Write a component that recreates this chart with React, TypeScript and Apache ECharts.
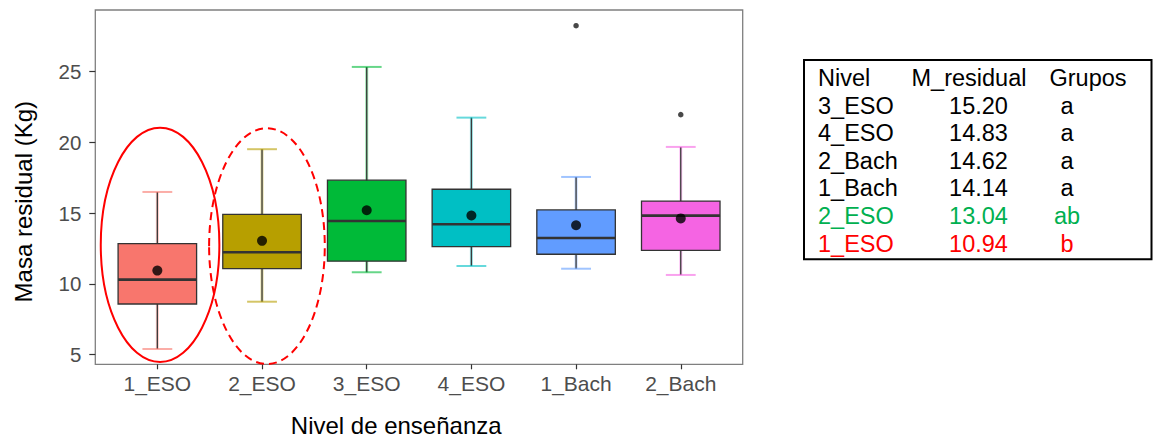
import React, { useEffect, useRef } from "react";
import * as echarts from "echarts";

// Boxplot summary per educational level
const levels = ["1_ESO", "2_ESO", "3_ESO", "4_ESO", "1_Bach", "2_Bach"];
const whiskerLow = [5.4, 8.74, 10.82, 11.26, 11.07, 10.63];
const quartile1 = [8.58, 11.07, 11.6, 12.63, 12.09, 12.37];
const medians = [10.3, 12.23, 14.44, 14.21, 13.24, 14.82];
const quartile3 = [12.84, 14.91, 17.32, 16.68, 15.22, 15.85];
const whiskerHigh = [16.49, 19.51, 25.32, 21.74, 17.55, 19.67];
const means = [10.94, 13.04, 15.2, 14.83, 14.14, 14.62];
const outlierLevels = ["1_Bach", "2_Bach"];
const outlierValues = [28.23, 21.95];
const levelColors = ["#F8766D", "#B79F00", "#00BA38", "#00BFC4", "#619CFF", "#F564E3"];
const yTicks = [5, 10, 15, 20, 25];

// Highlighted levels (value span of each ring)
const highlightLevels = ["1_ESO", "2_ESO"];
const highlightTop = [21.03, 20.99];
const highlightBottom = [4.48, 4.34];

// Summary table (ordered by mean)
const tableHeader = ["Nivel", "M_residual", "Grupos"];
const tableLevels = ["3_ESO", "4_ESO", "2_Bach", "1_Bach", "2_ESO", "1_ESO"];
const tableGroups = ["a", "a", "a", "a", "ab", "b"];
const tableColors = ["#000000", "#000000", "#000000", "#000000", "#00B050", "#FF0000"];

const FONT = "'Liberation Sans', Arial, Helvetica, sans-serif";

export default function App() {
  const ref = useRef<HTMLDivElement>(null);

  useEffect(() => {
    if (!ref.current) return;
    const chart = echarts.init(ref.current, undefined, { renderer: "svg" });

    const boxData = levels.map((_, i) => [
      i,
      whiskerLow[i],
      quartile1[i],
      medians[i],
      quartile3[i],
      whiskerHigh[i],
    ]);
    const meanData = levels.map((_, i) => [i, means[i]]);
    const outlierData = outlierLevels.map((l, i) => [levels.indexOf(l), outlierValues[i]]);
    const ringData = highlightLevels.map((l, i) => [
      levels.indexOf(l),
      highlightTop[i],
      highlightBottom[i],
    ]);
    const ringWidth = [1.133, 1.105];
    const ringShift = [0.026, 0.047];

    // table graphics
    const colX = [818, 978.5, 1067];
    const rowY0 = 78;
    const rowStep = 27.6;
    const tableFont = `23.5px ${FONT}`;
    const tableText: any[] = [];
    tableHeader.forEach((h, c) => {
      tableText.push({
        type: "text",
        x: c === 0 ? 818 : c === 1 ? 911.5 : 1049.5,
        y: rowY0,
        style: {
          text: h,
          font: tableFont,
          fill: "#000",
          align: "left",
          verticalAlign: "middle",
        },
      });
    });
    tableLevels.forEach((l, r) => {
      const y = rowY0 + (r + 1) * rowStep;
      const col = tableColors[r];
      const meanStr = means[levels.indexOf(l)].toFixed(2);
      [l, meanStr, tableGroups[r]].forEach((t, c) => {
        tableText.push({
          type: "text",
          x: colX[c],
          y,
          style: {
            text: t,
            font: tableFont,
            fill: col,
            align: c === 0 ? "left" : "center",
            verticalAlign: "middle",
          },
        });
      });
    });

    const option: any = {
      animation: false,
      backgroundColor: "#ffffff",
      textStyle: { fontFamily: FONT },
      grid: { left: 105, top: 10, width: 628.1, height: 354.3, containLabel: false },
      xAxis: {
        type: "category",
        data: levels,
        axisLine: { show: false },
        axisTick: { show: true, alignWithLabel: true, length: 5, lineStyle: { color: "#333333", width: 1.2 } },
        axisLabel: { fontSize: 21, color: "#4D4D4D", margin: 9, fontFamily: FONT },
        splitLine: { show: false },
      },
      yAxis: {
        type: "value",
        min: 4.32,
        max: 29.34,
        offset: 9.7,
        axisLine: { show: false },
        axisTick: { show: true, length: 6, customValues: yTicks, lineStyle: { color: "#333333", width: 1.2 } },
        axisLabel: { fontSize: 20.5, color: "#4D4D4D", margin: 14, customValues: yTicks, fontFamily: FONT },
        splitLine: { show: false },
      },
      series: [
        {
          type: "custom",
          name: "boxes",
          z: 2,
          silent: true,
          clip: false,
          data: boxData,
          encode: { x: 0, y: [1, 2, 3, 4, 5] },
          renderItem: (params: any, api: any) => {
            const i = params.dataIndex;
            const x = api.value(0);
            const band = api.size([1, 0])[0];
            const pLow = api.coord([x, api.value(1)]);
            const pQ1 = api.coord([x, api.value(2)]);
            const pMed = api.coord([x, api.value(3)]);
            const pQ3 = api.coord([x, api.value(4)]);
            const pHigh = api.coord([x, api.value(5)]);
            const cx = pLow[0];
            const bw = band * 0.75;
            const cw = band * 0.285;
            const col = levelColors[i];
            return {
              type: "group",
              children: [
                {
                  type: "line",
                  shape: { x1: cx, y1: pLow[1], x2: cx, y2: pHigh[1] },
                  style: { stroke: col, lineWidth: 3, opacity: 0.4 },
                },
                {
                  type: "line",
                  shape: { x1: cx, y1: pLow[1], x2: cx, y2: pHigh[1] },
                  style: { stroke: "#3a3a3a", lineWidth: 1.3 },
                },
                {
                  type: "line",
                  shape: { x1: cx - cw / 2, y1: pLow[1], x2: cx + cw / 2, y2: pLow[1] },
                  style: { stroke: col, lineWidth: 2, opacity: 0.6 },
                },
                {
                  type: "line",
                  shape: { x1: cx - cw / 2, y1: pHigh[1], x2: cx + cw / 2, y2: pHigh[1] },
                  style: { stroke: col, lineWidth: 2, opacity: 0.6 },
                },
                {
                  type: "rect",
                  shape: { x: cx - bw / 2, y: pQ3[1], width: bw, height: pQ1[1] - pQ3[1] },
                  style: { fill: col, stroke: "#333333", lineWidth: 1.3 },
                },
                {
                  type: "line",
                  shape: { x1: cx - bw / 2, y1: pMed[1], x2: cx + bw / 2, y2: pMed[1] },
                  style: { stroke: "#333333", lineWidth: 2.6 },
                },
              ],
            };
          },
        },
        {
          type: "scatter",
          name: "mean",
          z: 3,
          silent: true,
          data: meanData,
          symbol: "circle",
          symbolSize: 10,
          itemStyle: { color: "#000000" },
        },
        {
          type: "scatter",
          name: "outliers",
          z: 3,
          silent: true,
          data: outlierData,
          symbol: "circle",
          symbolSize: 5.5,
          itemStyle: { color: "#1a1a1a" },
        },
        {
          type: "custom",
          name: "rings",
          z: 4,
          silent: true,
          clip: false,
          data: ringData,
          encode: { x: 0, y: [1, 2] },
          renderItem: (params: any, api: any) => {
            const i = params.dataIndex;
            const x = api.value(0);
            const band = api.size([1, 0])[0];
            const top = api.coord([x, api.value(1)]);
            const bot = api.coord([x, api.value(2)]);
            return {
              type: "ellipse",
              shape: {
                cx: top[0] + ringShift[i] * band,
                cy: (top[1] + bot[1]) / 2,
                rx: (ringWidth[i] * band) / 2,
                ry: (bot[1] - top[1]) / 2,
              },
              style: {
                fill: "none",
                stroke: "#FF0000",
                lineWidth: 2,
                lineDash: i === 1 ? [8, 5] : null,
              },
            };
          },
        },
      ],
      graphic: [
        {
          type: "rect",
          silent: true,
          shape: { x: 95.3, y: 10, width: 647.4, height: 354.3 },
          style: { fill: "none", stroke: "#7F7F7F", lineWidth: 1.3 },
        },
        {
          type: "text",
          x: 23.5,
          y: 201.7,
          rotation: Math.PI / 2,
          style: {
            text: "Masa residual (Kg)",
            font: `24px ${FONT}`,
            fill: "#000000",
            align: "center",
            verticalAlign: "middle",
          },
        },
        {
          type: "text",
          x: 396.2,
          y: 425,
          style: {
            text: "Nivel de enseñanza",
            font: `24px ${FONT}`,
            fill: "#000000",
            align: "center",
            verticalAlign: "middle",
          },
        },
        {
          type: "rect",
          silent: true,
          shape: { x: 804, y: 60, width: 347.5, height: 199.3 },
          style: { fill: "none", stroke: "#000000", lineWidth: 2 },
        },
        ...tableText,
      ],
    };

    chart.setOption(option);
    return () => chart.dispose();
  }, []);

  return (
    <div
      ref={ref}
      style={{ position: "absolute", left: 0, top: 0, width: 1153, height: 438 }}
    />
  );
}
